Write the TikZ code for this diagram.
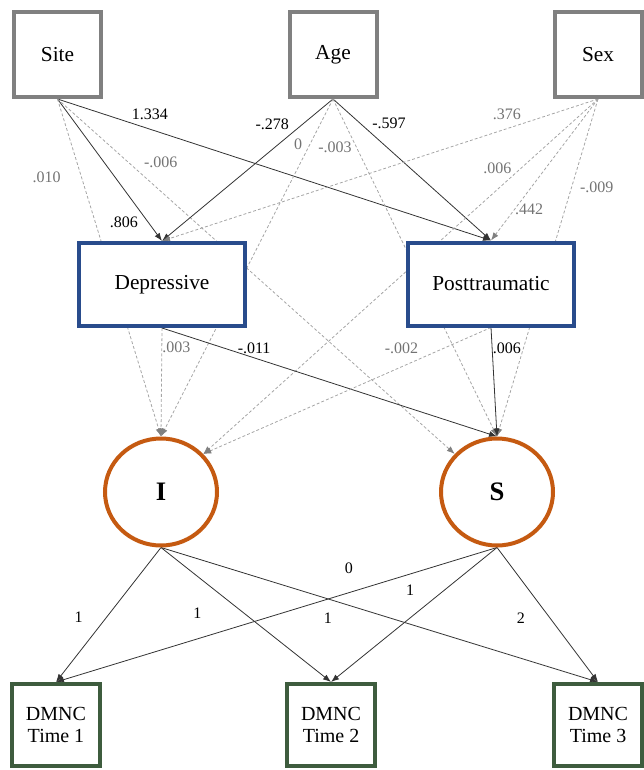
\documentclass[tikz,border=0pt]{standalone}
\usepackage{fontspec}
\setmainfont{Liberation Serif}
\usetikzlibrary{arrows.meta,shapes.geometric,backgrounds}

\definecolor{boxgray}{RGB}{128,128,128}
\definecolor{medblue}{RGB}{41,76,140}
\definecolor{latorange}{RGB}{197,90,17}
\definecolor{outgreen}{RGB}{62,92,62}
\definecolor{dashgray}{RGB}{165,165,165}
\definecolor{lblgray}{RGB}{115,115,115}

\tikzset{
  covbox/.style={draw=boxgray, line width=3pt, fill=white, minimum width=65.25pt, minimum height=63.75pt, font=\fontsize{16}{18}\selectfont},
  medbox/.style={draw=medblue, line width=3pt, fill=white, minimum width=124.5pt, minimum height=62.25pt, font=\fontsize{16}{18}\selectfont},
  growth/.style={ellipse, draw=latorange, line width=3pt, fill=white, minimum width=84pt, minimum height=80.25pt, font=\fontsize{20}{22}\selectfont\bfseries},
  dmnc/.style={draw=outgreen, line width=3pt, fill=white, minimum width=66pt, minimum height=61.5pt, align=center, font=\fontsize{15}{17}\selectfont},
  sig/.style={draw=black!80, line width=0.6pt, -{Latex[length=6pt,width=4.5pt]}},
  nonsig/.style={draw=dashgray, line width=0.6pt, dash pattern=on 2.2pt off 1.6pt, -{Latex[length=6pt,width=4.5pt,color=gray]}},
  coef/.style={font=\fontsize{12}{14}\selectfont, inner sep=0pt},
  coefns/.style={coef, text=lblgray},
}

\begin{document}
\begin{tikzpicture}[x=0.75pt, y=-0.75pt]
  \useasboundingbox (0,0) rectangle (643,770);

  % Covariates
  \node[covbox] (site) at (57.5,54.5) {Site};
  \node[covbox] (age) at (333,54.5) {Age};
  \node[covbox] (sex) at (598,54.5) {Sex};

  % Symptom clusters
  \node[medbox] (dep) at (162,284.5) {Depressive};
  \node[medbox] (post) at (491,284) {Posttraumatic};

  % Growth factors
  \node[growth] (int) at (161,492) {I};
  \node[growth] (slope) at (497,492) {S};

  % Repeated measures
  \node[dmnc] (t1) at (56,725) {DMNC\\Time 1};
  \node[dmnc] (t2) at (331,725) {DMNC\\Time 2};
  \node[dmnc] (t3) at (598,725) {DMNC\\Time 3};

  \begin{scope}[on background layer]
    % Site paths
    \draw[sig] (site.south) -- (dep.north) node[coef, pos=.866, xshift=-18pt] {.806};
    \draw[sig] (site.south) -- (post.north) node[coef, pos=.213, yshift=11pt] {1.334};
    \draw[nonsig] (site.south) -- (int.north) node[coefns, pos=.231, xshift=-26pt] {.010};
    \draw[nonsig] (site.south) -- (slope.138) node[coefns, pos=.26, yshift=22pt] {-.006};

    % Age paths
    \draw[sig] (age.south) -- (dep.north) node[coef, pos=.176, xshift=-23pt] {-.278};
    \draw[sig] (age.south) -- (post.north) node[coef, pos=.169, xshift=22pt] {-.597};
    \draw[nonsig] (age.south) -- (int.north) node[coefns, pos=.133, xshift=-9pt] {0};
    \draw[nonsig] (age.south) -- (slope.north) node[coefns, pos=.142, xshift=-16pt] {-.003};

    % Sex paths
    \draw[nonsig] (sex.south) -- (dep.north) node[coefns, pos=.209, yshift=11pt] {.376};
    \draw[nonsig] (sex.south) -- (int.42) node[coefns, pos=.194, xshift=-18pt] {.006};
    \draw[nonsig] (sex.south) -- (post.north) node[coefns, pos=.78, xshift=11pt] {.442};
    \draw[nonsig] (sex.south) -- (slope.north) node[coefns, pos=.263, xshift=19pt] {-.009};

    % Symptom clusters to growth factors
    \draw[nonsig] (dep.south) -- (int.north) node[coefns, pos=.18, xshift=11pt] {.003};
    \draw[sig] (dep.south) -- (slope.north) node[coef, pos=.275, yshift=7.5pt] {-.011};
    \draw[nonsig] (post.south) -- (int.42) node[coefns, pos=.165, xshift=-31.5pt] {-.002};
    \draw[sig] (post.south) -- (slope.north) node[coef, pos=.19, xshift=11pt] {.006};

    % Loadings
    \draw[sig] (int.south) -- (t1.north) node[coef, pos=.519, xshift=-21pt] {1};
    \draw[sig] (int.south) -- (t2.north) node[coef, pos=.489, xshift=-35pt] {1};
    \draw[sig] (int.south) -- (t3.north) node[coef, pos=.382, yshift=-14.5pt] {1};
    \draw[sig] (slope.south) -- (t1.north) node[coef, pos=.336, yshift=18pt] {0};
    \draw[sig] (slope.south) -- (t2.north) node[coef, pos=.319, xshift=-25.5pt] {1};
    \draw[sig] (slope.south) -- (t3.north) node[coef, pos=.526, xshift=-22pt] {2};
  \end{scope}
\end{tikzpicture}
\end{document}
